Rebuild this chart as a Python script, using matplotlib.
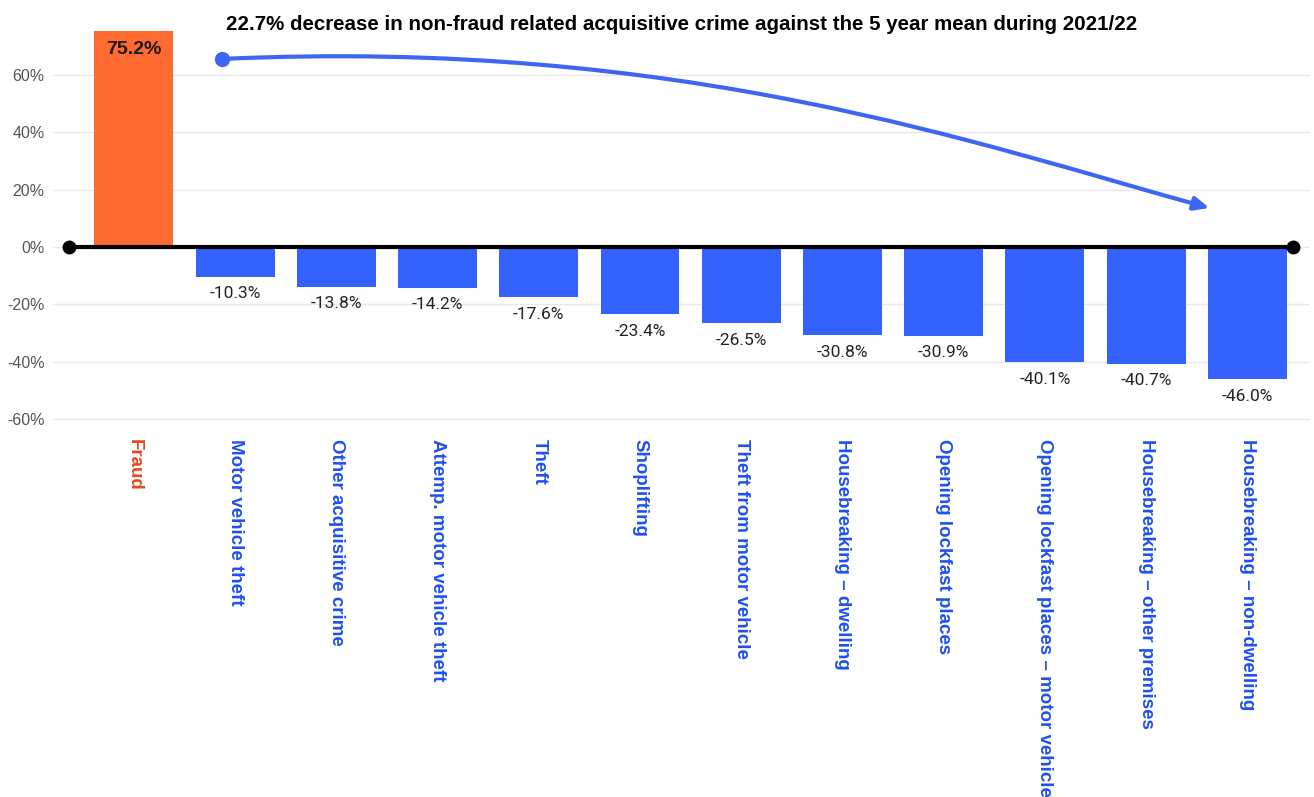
import matplotlib.pyplot as plt
import numpy as np
from matplotlib.path import Path
from matplotlib.patches import FancyArrowPatch

categories = ['Fraud', 'Motor vehicle theft', 'Other acquisitive crime',
              'Attemp. motor vehicle theft', 'Theft', 'Shoplifting',
              'Theft from motor vehicle', 'Housebreaking \u2013 dwelling',
              'Opening lockfast places',
              'Opening lockfast places \u2013 motor vehicle',
              'Housebreaking \u2013 other premises',
              'Housebreaking \u2013 non-dwelling']
change = [75.2, -10.3, -13.8, -14.2, -17.6, -23.4, -26.5, -30.8, -30.9,
          -40.1, -40.7, -46.0]
yticks = [-60, -40, -20, 0, 20, 40, 60]
title = '22.7% decrease in non-fraud related acquisitive crime against the 5 year mean during 2021/22'

orange = '#FF6A30'
blue = '#3462FF'
orange_lbl = '#E8471C'
blue_lbl = '#1F4FF0'

plt.rcParams['font.family'] = ['Liberation Sans', 'DejaVu Sans']

fig = plt.figure(figsize=(13.14, 7.97), dpi=100)
W, H = 1314, 797
ax = fig.add_axes([53 / W, 1 - 424.7 / H, (1310 - 53) / W, (424.7 - 17.7) / H])

x = np.arange(len(categories))
colors = [orange if v > 0 else blue for v in change]
ax.bar(x, change, width=0.78, color=colors, zorder=2)

ax.set_xlim(-0.8, 11.62)
ax.set_ylim(-62, 80)
ax.set_yticks(yticks)
ax.set_yticklabels([f'{t}%' for t in yticks], color='#555555', fontsize=11.5)
ax.yaxis.grid(True, color='#e8e8e8', lw=1, zorder=0)
ax.tick_params(axis='y', length=0, pad=6)
ax.tick_params(axis='x', length=0, pad=10)
for s in ax.spines.values():
    s.set_visible(False)

ax.set_xticks(x)
ax.set_xticklabels(categories, rotation=-90, fontsize=13.5, fontweight='bold',
                   va='top', ha='center')
for lbl, v in zip(ax.get_xticklabels(), change):
    lbl.set_color(orange_lbl if v > 0 else blue_lbl)

# zero baseline with end dots
ax.plot([-0.64, 11.45], [0, 0], color='black', lw=3, zorder=4,
        marker='o', markersize=9, solid_capstyle='butt')

# value labels
for xi, v in zip(x, change):
    if v > 0:
        ax.annotate(f'{v:.1f}%', (xi, v), xytext=(0, -7), textcoords='offset points',
                    ha='center', va='top', fontsize=14, fontweight='bold',
                    color='#1a1a1a', zorder=5)
    else:
        ax.annotate(f'{v:.1f}%', (xi, v), xytext=(0, -7), textcoords='offset points',
                    ha='center', va='top', fontsize=12.5, color='#222222',
                    family=['Roboto', 'DejaVu Sans'], zorder=5)

# curved trend arrow
p0 = (0.865, 65.6)
p1 = (5.4, 73.0)
p2 = (8.355, 35.6)
p3 = (10.627, 13.6)
path = Path([p0, p1, p2, p3], [Path.MOVETO, Path.CURVE4, Path.CURVE4, Path.CURVE4])
arrow = FancyArrowPatch(path=path, arrowstyle='-|>,head_length=9,head_width=4',
                        color='#3D66F5', lw=3, zorder=5)
ax.add_patch(arrow)
ax.plot(*p0, 'o', color='#3D66F5', markersize=10, zorder=6)

fig.text(682 / W, 1 - 25 / H, title, ha='center', va='center',
         fontsize=14.8, fontweight='bold', color='black')

fig.savefig('out.png', dpi=100, facecolor='white')
